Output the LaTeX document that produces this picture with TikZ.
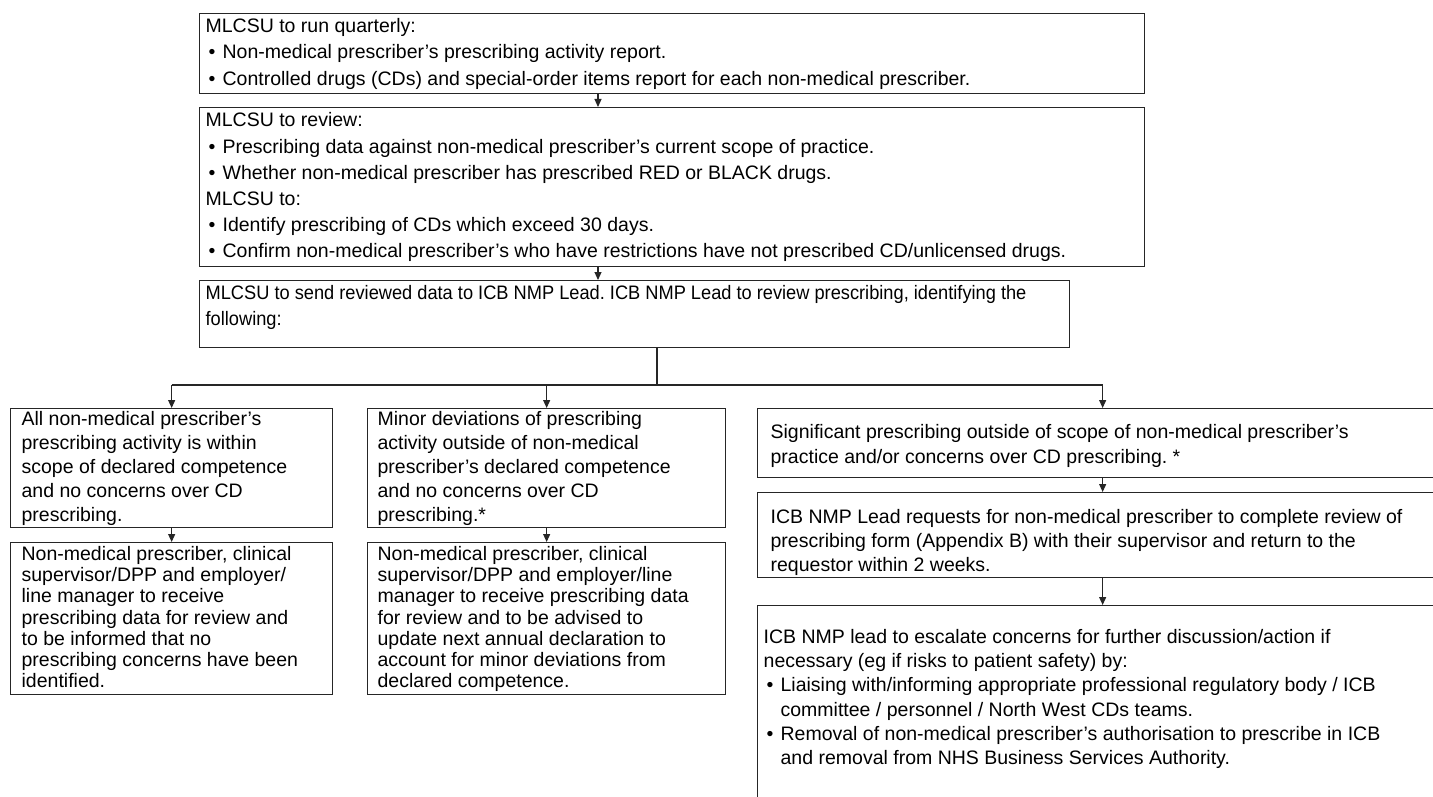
\documentclass[tikz,border=0pt]{standalone}
\usepackage{fontspec}
\setmainfont{Liberation Sans}
\newfontfamily\narrowsans[FakeStretch=0.935]{Liberation Sans}
\usetikzlibrary{arrows.meta}
\tikzset{
  fbox/.style={draw=black!85, line width=1.3pt, inner xsep=0pt, inner ysep=0pt, anchor=north west, align=left, fill=white, font=\fontsize{19.5}{24}\selectfont},
  conn/.style={draw=black!85, line width=1.1pt},
  arr/.style={conn, -{Triangle[length=8pt,width=7pt]}},
}
\newcommand\boxtxt[6][24]{%
  \begin{minipage}[t][#3pt][t]{#2pt}\fontsize{19.5}{#1}\selectfont\frenchspacing\raggedright\rightskip=0pt plus 1fil minus 120pt\relax\vspace*{#5pt}\leftskip=#4pt\strut #6\end{minipage}}
\newcommand\bulitem{\hspace*{3pt}\makebox[14pt][l]{•}}
\newcommand\bulcont{\hspace*{17pt}}
\begin{document}
\begin{tikzpicture}[x=1pt,y=-1pt]
\useasboundingbox (0,0) rectangle (1433,797);
\clip (0,0) rectangle (1433,797);
\fill[white] (0,0) rectangle (1433,797);

\node[fbox] (b1) at (199,13) {\boxtxt[26.5]{945}{80}{6}{0}{MLCSU to run quarterly:\\
\bulitem Non-medical prescriber’s prescribing activity report.\\
\bulitem Controlled drugs (CDs) and special-order items report for each non-medical prescriber.}};

\node[fbox] (b2) at (199,107) {\boxtxt[26.2]{945}{159}{6}{1}{MLCSU to review:\\
\bulitem Prescribing data against non-medical prescriber’s current scope of practice.\\
\bulitem Whether non-medical prescriber has prescribed RED or BLACK drugs.\\
MLCSU to:\\
\bulitem Identify prescribing of CDs which exceed 30 days.\\
\bulitem Confirm non-medical prescriber’s who have restrictions have not prescribed CD/unlicensed drugs.}};

\node[fbox] (b3) at (199,280) {\boxtxt[26]{870}{67}{6}{1}{\narrowsans\fontsize{19.5}{26}\selectfont MLCSU to send reviewed data to ICB NMP Lead. ICB NMP Lead to review prescribing, identifying the\\
following:}};

\node[fbox] (L1) at (10,408) {\boxtxt[24]{322}{119}{11}{0}{All non-medical prescriber’s\\
prescribing activity is within\\
scope of declared competence\\
and no concerns over CD\\
prescribing.}};

\node[fbox] (M1) at (367,408) {\boxtxt[24]{358}{119}{10}{0}{Minor deviations of prescribing\\
activity outside of non-medical\\
prescriber’s declared competence\\
and no concerns over CD\\
prescribing.*}};

\node[fbox] (R1) at (757,408) {\boxtxt[25]{690}{69}{13}{12}{Significant prescribing outside of scope of non-medical prescriber’s\\
practice and/or concerns over CD prescribing. *}};

\node[fbox] (L2) at (10,542) {\boxtxt[21.2]{322}{152}{11}{3}{Non-medical prescriber, clinical\\
supervisor/DPP and employer/\\
line manager to receive\\
prescribing data for review and\\
to be informed that no\\
prescribing concerns have been\\
identified.}};

\node[fbox] (M2) at (367,542) {\boxtxt[21.2]{358}{152}{10}{3}{Non-medical prescriber, clinical\\
supervisor/DPP and employer/line\\
manager to receive prescribing data\\
for review and to be advised to\\
update next annual declaration to\\
account for minor deviations from\\
declared competence.}};

\node[fbox] (R2) at (757,492) {\boxtxt{690}{85}{13}{14}{ICB NMP Lead requests for non-medical prescriber to complete review of\\
prescribing form (Appendix B) with their supervisor and return to the\\
requestor within 2 weeks.}};

\node[fbox] (R3) at (757,605) {\boxtxt[24.2]{690}{230}{6}{21}{ICB NMP lead to escalate concerns for further discussion/action if\\
necessary (eg if risks to patient safety) by:\\
\bulitem Liaising with/informing appropriate professional regulatory body / ICB\\
\bulcont committee / personnel / North West CDs teams.\\
\bulitem Removal of non-medical prescriber’s authorisation to prescribe in ICB\\
\bulcont and removal from NHS Business Services Authority.}};

\coordinate (a1) at (598,0);
\coordinate (split) at (657,385);
\draw[arr] (b1.south -| a1) -- (b2.north -| a1);
\draw[arr] (b2.south -| a1) -- (b3.north -| a1);
\draw[conn] (b3.south -| split) -- (split);
\draw[conn] (L1.north |- split) -- (R1.north |- split);
\draw[arr] (L1.north |- split) -- (L1.north);
\draw[arr] (M1.north |- split) -- (M1.north);
\draw[arr] (R1.north |- split) -- (R1.north);
\draw[arr] (L1.south) -- (L2.north);
\draw[arr] (M1.south) -- (M2.north);
\draw[arr] (R1.south) -- (R2.north);
\draw[arr] (R2.south) -- (R3.north);
\end{tikzpicture}
\end{document}
